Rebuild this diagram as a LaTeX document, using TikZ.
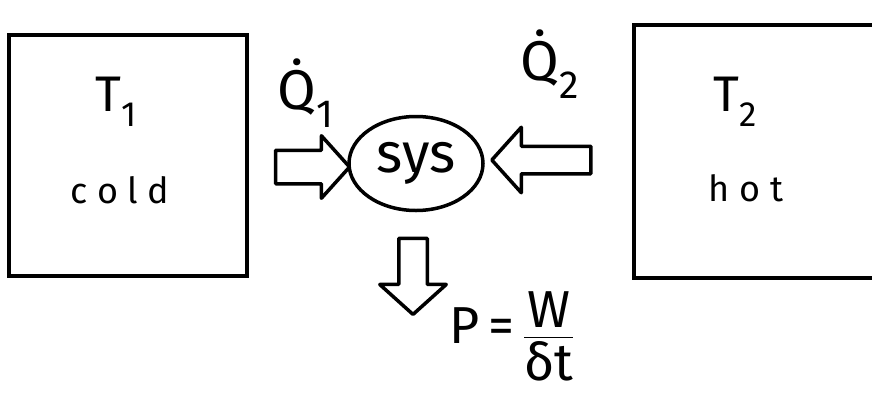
\documentclass[tikz,border=0pt]{standalone}
\usepackage{amsmath}
\usepackage{fontspec}
\setmainfont{Fira Sans}
\usetikzlibrary{shapes.geometric,shapes.arrows}
\tikzset{
  reservoir/.style={draw,line width=3.5pt,inner sep=0pt},
  sysblob/.style={ellipse,draw,line width=3.5pt,inner sep=0pt,minimum width=134pt,minimum height=94pt},
  heatArrow/.style={single arrow,draw,line width=3.5pt,line join=round,inner xsep=0pt,
    single arrow tip angle=96},
  handlabel/.style={inner sep=0pt,font=\fontsize{50}{56}\selectfont}
}
\begin{document}
\begin{tikzpicture}[x=1pt,y=-1pt]
  \useasboundingbox (0,0) rectangle (872,394);
  % the two reservoirs
  \node[reservoir,minimum width=238pt,minimum height=241pt] (cold) at (128,155.5) {};
  \node[reservoir,minimum width=242pt,minimum height=253pt] (hot) at (755,151.5) {};
  \node[handlabel] (t1) at (116,102) {T\textsubscript{1}};
  \node[handlabel,font=\fontsize{36}{40}\selectfont] (coldtext) at (120,190) {c o l d};
  \node[handlabel] (t2) at (735,102) {T\textsubscript{2}};
  \node[handlabel,font=\fontsize{36}{40}\selectfont] (hottext) at (746,188) {h o t};
  % system
  \node[sysblob,font=\fontsize{56}{60}\selectfont] (sys) at (416,163.5) {sys};
  % heat in, work out
  \node[heatArrow,minimum height=74pt,inner ysep=15pt,single arrow head extend=14.5pt] (q1arrow) at (305,167) {};
  \node[heatArrow,minimum height=99pt,inner ysep=12pt,single arrow head extend=19pt,rotate=180] (q2arrow) at (547.5,160) {};
  \node[heatArrow,minimum height=76pt,inner ysep=12.5pt,single arrow head extend=19pt,rotate=-90] (warrow) at (413,270) {};
  \node[handlabel,font=\fontsize{56}{60}\selectfont] (q1) at (306,93) {\.{Q}\textsubscript{1}};
  \node[handlabel,font=\fontsize{56}{60}\selectfont] (q2) at (550,64) {\.{Q}\textsubscript{2}};
  \node[handlabel,font=\fontsize{52}{56}\selectfont] (power) at (512,336) {P\,=\,$\dfrac{\text{W}}{\text{δt}}$};
\end{tikzpicture}
\end{document}
